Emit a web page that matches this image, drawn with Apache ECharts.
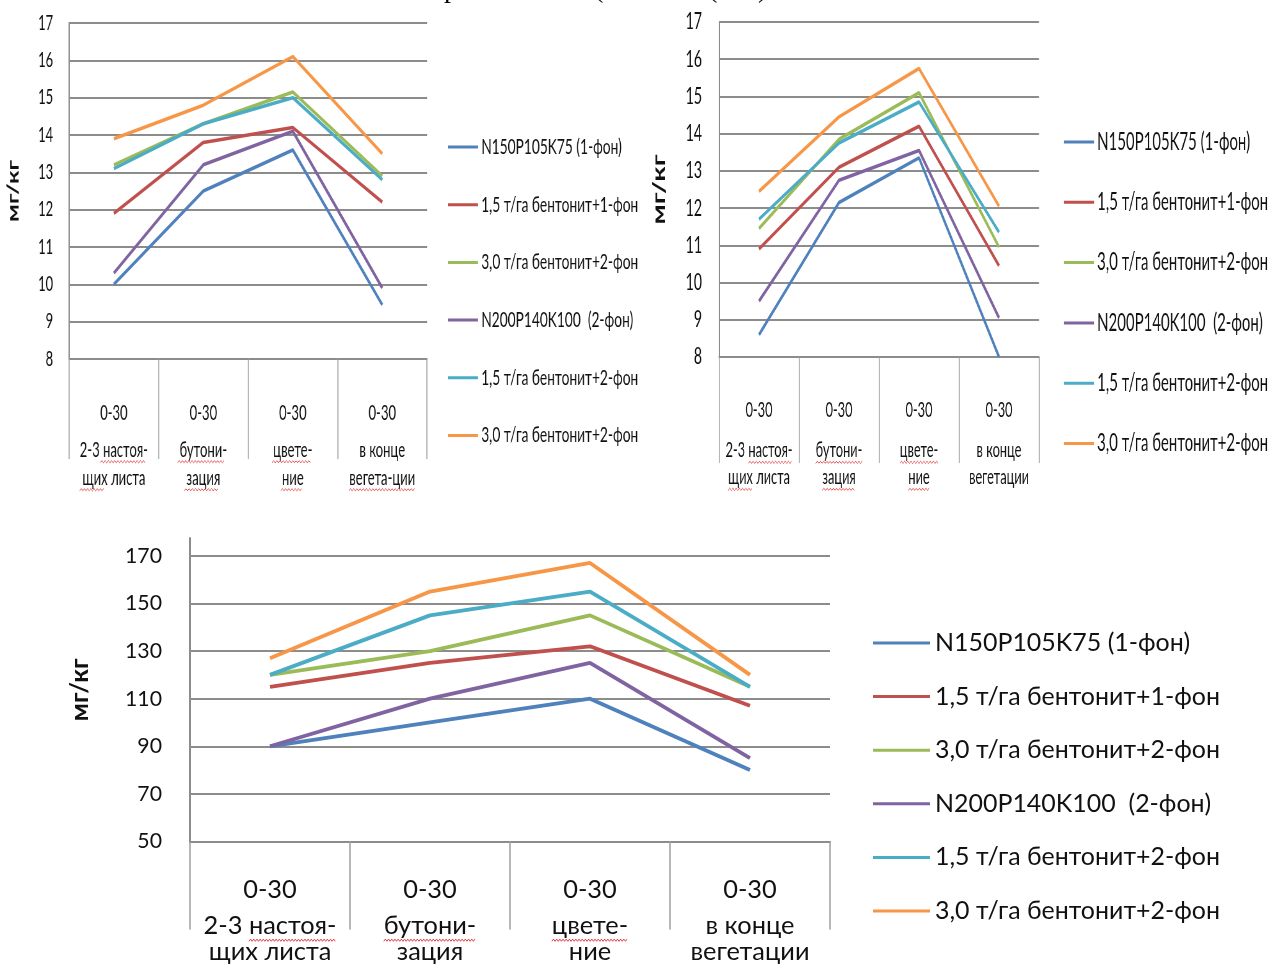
<!DOCTYPE html>
<html>
<head>
<meta charset="utf-8">
<script src="https://cdn.jsdelivr.net/npm/echarts@6/dist/echarts.min.js"></script>
<style>
html,body{margin:0;padding:0;background:#ffffff;overflow:hidden;}
#wrap{position:relative;width:1270px;height:964px;}
#b{position:absolute;left:0;top:0;width:1270px;height:964px;}
#tl{position:absolute;left:0;top:0;height:510px;transform-origin:0 0;}
#tr{position:absolute;left:640px;top:0;height:510px;transform-origin:0 0;}
</style>
</head>
<body>
<div id="wrap"><div id="b"></div><div id="tl"></div><div id="tr"></div></div>
<script>
// ---------------- DATA ----------------
const depthLabels = ['0-30', '0-30', '0-30', '0-30'];
const stagesTL = ['2-3 настоя-\nщих листа', 'бутони-\nзация', 'цвете-\nние', 'в конце\nвегета-ции'];
const stagesTR = ['2-3 настоя-\nщих листа', 'бутони-\nзация', 'цвете-\nние', 'в конце\nвегетации'];
const stagesB  = ['2-3 настоя-\nщих листа', 'бутони-\nзация', 'цвете-\nние', 'в конце\nвегетации'];
// words marked by the spell checker in the source (line 1 or 2 of each stage label, text before the word, word)
const spellTL = [[[1, '2-3 ', 'настоя-'], [2, '', 'щих']], [[1, '', 'бутони-'], [2, '', 'зация']], [[1, '', 'цвете-'], [2, '', 'ние']], [[2, '', 'вегета-ции']]];
const spellTR = [[[1, '2-3 ', 'настоя-'], [2, '', 'щих']], [[1, '', 'бутони-'], [2, '', 'зация']], [[1, '', 'цвете-'], [2, '', 'ние']], []];
const spellB  = [[[1, '2-3 ', 'настоя-'], [2, '', 'щих']], [[1, '', 'бутони-'], [2, '', 'зация']], [[1, '', 'цвете-'], [2, '', 'ние']], []];

const seriesNames = [
  'N150P105K75 (1-фон)',
  '1,5 т/га бентонит+1-фон',
  '3,0 т/га бентонит+2-фон',
  'N200P140K100  (2-фон)',
  '1,5 т/га бентонит+2-фон',
  '3,0 т/га бентонит+2-фон '
];
const seriesColors = ['#4F81BD', '#C0504D', '#9BBB59', '#8064A2', '#4BACC6', '#F79646'];

// top-left chart, мг/кг
const tlBlue   = [10.0, 12.5, 13.6, 9.45];
const tlRed    = [11.9, 13.8, 14.2, 12.2];
const tlGreen  = [13.2, 14.3, 15.15, 12.9];
const tlPurple = [10.3, 13.2, 14.1, 9.9];
const tlTeal   = [13.1, 14.3, 15.0, 12.8];
const tlOrange = [13.9, 14.8, 16.1, 13.5];

// top-right chart, мг/кг
const trBlue   = [8.6, 12.15, 13.35, 8.0];
const trRed    = [10.9, 13.1, 14.2, 10.45];
const trGreen  = [11.45, 13.85, 15.1, 10.95];
const trPurple = [9.5, 12.75, 13.55, 9.05];
const trTeal   = [11.7, 13.75, 14.85, 11.35];
const trOrange = [12.45, 14.45, 15.75, 12.05];

// bottom chart, мг/кг
const bBlue   = [90, 100, 110, 80];
const bRed    = [115, 125, 132, 107];
const bGreen  = [120, 130, 145, 115];
const bPurple = [90, 110, 125, 85];
const bTeal   = [120, 145, 155, 115];
const bOrange = [127, 155, 167, 120];

const yTopMin = 8, yTopMax = 17, yTopStep = 1;
const yBotMin = 50, yBotMax = 177.5, yBotStep = 20;
const yName = 'мг/кг';

// ---------------- FONTS ----------------
const mctx = document.createElement('canvas').getContext('2d');
function hasFont(f) {
  const t = 'N150P105K75 бентонит wmi';
  mctx.font = '40px monospace';
  const a = mctx.measureText(t).width;
  mctx.font = '40px "' + f + '", monospace';
  const b = mctx.measureText(t).width;
  return Math.abs(a - b) > 0.5;
}
const bodyName = ['Lato', 'Open Sans', 'Noto Sans'].find(hasFont) || 'sans-serif';
const body = '"' + bodyName + '", sans-serif';
function tw(text, size, weight) {
  mctx.font = (weight || 'normal') + ' ' + size + 'px ' + body;
  return mctx.measureText(text).width;
}
function fit(text, target, weight) {
  return +(target / tw(text, 100, weight) * 100).toFixed(2);
}

// ---------------- HELPERS ----------------
const gridColor = '#8c8c8c';
const tickColor = '#a0a0a0';

function catAxis(stages, size, h1, h2, margin, tickLen) {
  return {
    type: 'category', data: stages, boundaryGap: true,
    axisLine: { show: true, lineStyle: { color: gridColor, width: 2 } },
    axisTick: { show: true, interval: 0, length: tickLen, lineStyle: { color: tickColor, width: 1.5 } },
    axisLabel: {
      interval: 0, margin: margin,
      formatter: function (v, i) {
        const parts = v.split('\n');
        return '{a|' + depthLabels[i] + '}\n{b|' + parts[0] + '}\n{b|' + parts[1] + '}';
      },
      rich: {
        a: { fontFamily: body, fontSize: size, lineHeight: h1, color: '#111' },
        b: { fontFamily: body, fontSize: size, lineHeight: h2, color: '#111' }
      }
    },
    splitLine: { show: false }
  };
}
function valAxis(min, max, step, size, margin, nameSize, nameGap) {
  const aligned = ((max - min) / step) % 1 === 0;
  return {
    type: 'value', min: min, max: max, interval: step,
    name: yName, nameLocation: 'middle', nameRotate: 90, nameGap: nameGap,
    nameTextStyle: { fontFamily: body, fontSize: nameSize, fontWeight: 'bold', color: '#111' },
    axisLine: { show: true, lineStyle: { color: gridColor, width: 2 } },
    axisTick: { show: false },
    axisLabel: { fontFamily: body, fontSize: size, color: '#111', margin: margin, showMaxLabel: aligned },
    splitLine: { show: true, showMaxLine: aligned, lineStyle: { color: gridColor, width: 2 } }
  };
}
function lines(sets, width) {
  return sets.map(function (d, k) {
    return {
      type: 'line', name: seriesNames[k], data: d, symbol: 'none', color: seriesColors[k],
      lineStyle: { color: seriesColors[k], width: width },
      emphasis: { disabled: true }, z: 3 + k
    };
  });
}
function legend(left, rowCenter, spacing, size, iconW) {
  const lh = Math.round(size + 4);
  return {
    orient: 'vertical', left: left, top: rowCenter - lh / 2, padding: 0,
    itemGap: spacing - lh, itemWidth: iconW, itemHeight: 3, icon: 'rect',
    data: seriesNames, selectedMode: false,
    textStyle: { fontFamily: body, fontSize: size, lineHeight: lh, color: '#111' }
  };
}
// red wavy spell-check marks under label words, placed from the text metrics of the labels
function squiggles(stages, spell, gl, gr, axisY, margin, h1, h2, size, sx) {
  const out = [];
  const band = (gr - gl) / stages.length;
  stages.forEach(function (st, i) {
    const parts = st.split('\n');
    const cx = gl + (i + 0.5) * band;
    spell[i].forEach(function (sp) {
      const line = parts[sp[0] - 1];
      const full = tw(line, size);
      const x0 = cx - full / 2 + tw(sp[1], size);
      const x1 = x0 + tw(sp[2], size);
      const cy = axisY + margin + h1 + (sp[0] - 1) * h2 + h2 / 2;
      const y = cy + size * 0.5 + 1.5;
      const pts = [];
      const step = 1.6 / sx;
      let k = 0;
      for (let x = x0; x <= x1 + 0.01; x += step, k++) pts.push([x, y + (k % 2 ? -1.1 : 1.1)]);
      out.push({ type: 'polyline', silent: true, z: 10, shape: { points: pts }, style: { stroke: '#e03030', lineWidth: 0.9, fill: null } });
    });
  });
  return out;
}

// ---------------- TOP CHARTS (horizontally squeezed, like the source image) ----------------
function topChart(id, offX, widthPx, s, cfg) {
  const el = document.getElementById(id);
  const W = widthPx / s;
  el.style.width = W + 'px';
  el.style.transform = 'scaleX(' + s + ')';
  const X = function (x) { return (x - offX) / s; };
  const catSize = fit(cfg.catText, cfg.catW / s);
  const ch = echarts.init(el, null, { renderer: 'canvas', width: W, height: 510 });
  ch.setOption({
    animation: false,
    grid: { left: X(cfg.gl), right: W - X(cfg.gr), top: cfg.gt, bottom: 510 - cfg.gb },
    xAxis: catAxis(cfg.stages, catSize, cfg.h1, cfg.h2, cfg.catMargin, cfg.tick),
    yAxis: valAxis(yTopMin, yTopMax, yTopStep, fit('17', cfg.ytW / s), cfg.ytMargin / s,
      fit(yName, cfg.nameLen, 'bold'), cfg.nameGap / s),
    legend: legend(X(cfg.legX), cfg.legY, cfg.legSp, fit('1,5 т/га бентонит+1-фон', cfg.legW / s), 30 / s),
    graphic: squiggles(cfg.stages, cfg.spell, X(cfg.gl), X(cfg.gr), cfg.gb, cfg.catMargin, cfg.h1, cfg.h2, catSize, s),
    series: lines(cfg.data, 3.6)
  });
}

topChart('tl', 0, 640, 0.64, {
  gl: 66, gr: 427, gt: 23, gb: 359,
  stages: stagesTL, spell: spellTL, catText: 'вегета-ции', catW: 66, h1: 46, h2: 28, catMargin: 31, tick: 100,
  ytW: 15, ytMargin: 16, nameLen: 62, nameGap: 48,
  legX: 448, legY: 147, legSp: 57.7, legW: 157,
  data: [tlBlue, tlRed, tlGreen, tlPurple, tlTeal, tlOrange]
});
topChart('tr', 640, 630, 0.62, {
  gl: 719, gr: 1039, gt: 22, gb: 357,
  stages: stagesTR, spell: spellTR, catText: 'вегетации', catW: 60, h1: 53, h2: 27, catMargin: 27, tick: 106,
  ytW: 16.5, ytMargin: 17, nameLen: 70, nameGap: 51,
  legX: 1064, legY: 142, legSp: 60.3, legW: 171,
  data: [trBlue, trRed, trGreen, trPurple, trTeal, trOrange]
});

// ---------------- BOTTOM CHART ----------------
const bChart = echarts.init(document.getElementById('b'), null, { renderer: 'canvas' });
const topFont = '28px "Liberation Serif", serif';
const bCatSize = fit('2-3 настоя-', 133);
bChart.setOption({
  animation: false,
  grid: { left: 190, right: 1270 - 830, top: 538, bottom: 964 - 842 },
  xAxis: catAxis(stagesB, bCatSize, 46, 26, 25, 88),
  yAxis: valAxis(yBotMin, yBotMax, yBotStep, fit('170', 37), 28, fit(yName, 63, 'bold'), 98),
  legend: legend(873, 643, 53.6, fit('3,0 т/га бентонит+2-фон', 285), 57),
  graphic: [
    { type: 'text', left: 444, top: -24, silent: true, style: { text: 'р', font: topFont, fill: '#000' } },
    { type: 'text', left: 594, top: -24, silent: true, style: { text: '(', font: topFont, fill: '#000' } },
    { type: 'text', left: 708, top: -24, silent: true, style: { text: '(', font: topFont, fill: '#000' } },
    { type: 'text', left: 758, top: -24, silent: true, style: { text: ')', font: topFont, fill: '#000' } }
  ].concat(squiggles(stagesB, spellB, 190, 830, 842, 25, 46, 26, bCatSize, 1)),
  series: lines([bBlue, bRed, bGreen, bPurple, bTeal, bOrange], 3.8)
});
</script>
</body>
</html>
